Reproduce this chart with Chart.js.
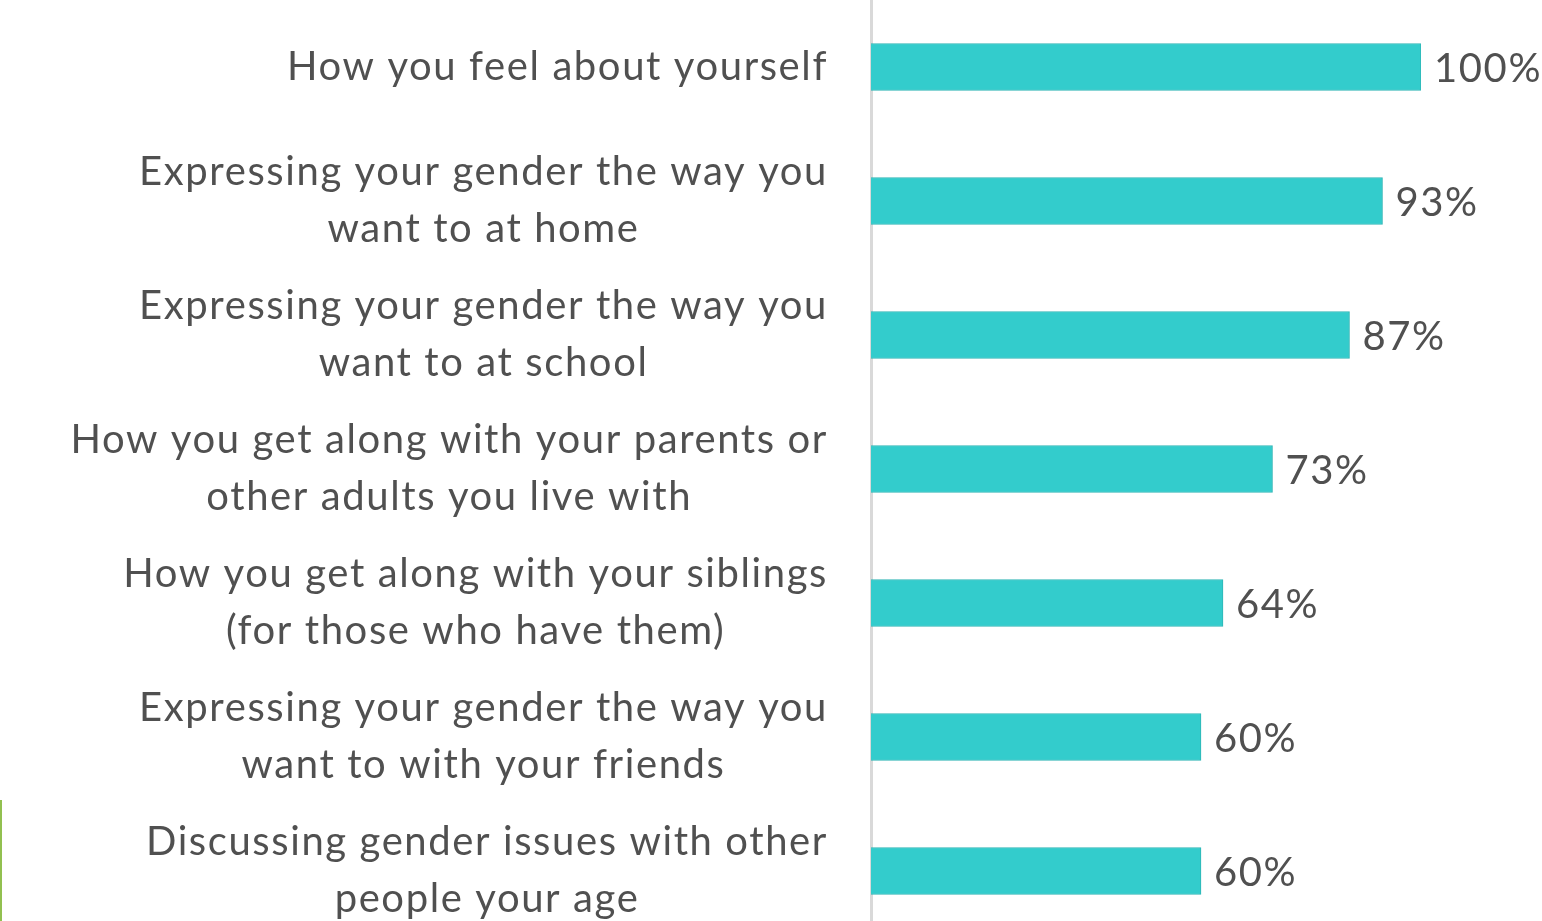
<!DOCTYPE html>
<html>
<head>
<meta charset="utf-8">
<script src="https://cdn.jsdelivr.net/npm/chart.js@4"></script>
<style>
  html, body { margin: 0; padding: 0; background: #fff; overflow: hidden; }
  #wrap { position: relative; width: 1542px; height: 938px; }
  #edge { position: absolute; left: 0; top: 800px; width: 2px; height: 121px; background: #92c050; }
</style>
</head>
<body>
<div id="wrap"><canvas id="chart"></canvas></div>
<div id="edge"></div>
<script>
// Chart data
const categories = [
    ['How you feel about yourself'],
    ['Expressing your gender the way you', 'want to at home'],
    ['Expressing your gender the way you', 'want to at school'],
    ['How you get along with your parents or', 'other adults you live with'],
    ['How you get along with your siblings', '(for those who have them)'],
    ['Expressing your gender the way you', 'want to with your friends'],
    ['Discussing gender issues with other', 'people your age']
];
const values = [100, 93, 87, 73, 64, 60, 60];

const textColor = '#505050';
const barColor = '#33cccc';
const fontFamily = 'Lato, "Open Sans", sans-serif';
const fontSize = 40;
const spacing = '1.6px';
const lineHeight = 57;

// Category labels: block right-aligned, lines centered within block
const categoryLabels = {
    id: 'categoryLabels',
    afterDraw(chart) {
        const ctx = chart.ctx;
        const y = chart.scales.y;
        const rightEdge = 828;
        ctx.save();
        ctx.font = fontSize + 'px ' + fontFamily;
        ctx.letterSpacing = spacing;
        ctx.fillStyle = textColor;
        ctx.textAlign = 'center';
        ctx.textBaseline = 'middle';
        categories.forEach((lines, i) => {
            const w = Math.max(...lines.map(l => ctx.measureText(l).width));
            const cx = rightEdge - w / 2;
            const cy = y.getPixelForValue(i);
            const top = cy - (lines.length - 1) * lineHeight / 2;
            lines.forEach((l, j) => ctx.fillText(l, cx, top + j * lineHeight));
        });
        ctx.restore();
    }
};

// Value labels at the end of each bar
const valueLabels = {
    id: 'valueLabels',
    afterDatasetsDraw(chart) {
        const ctx = chart.ctx;
        const meta = chart.getDatasetMeta(0);
        ctx.save();
        ctx.font = fontSize + 'px ' + fontFamily;
        ctx.letterSpacing = spacing;
        ctx.fillStyle = textColor;
        ctx.textAlign = 'left';
        ctx.textBaseline = 'middle';
        meta.data.forEach((bar, i) => {
            ctx.fillText(values[i] + '%', bar.x + 13, bar.y + 2);
        });
        ctx.restore();
    }
};

new Chart(document.getElementById('chart'), {
    type: 'bar',
    data: {
        labels: categories,
        datasets: [{
            data: values,
            backgroundColor: barColor,
            borderColor: '#2fb5b5',
            borderWidth: 1,
            borderSkipped: 'left',
            barThickness: 47
        }]
    },
    options: {
        indexAxis: 'y',
        responsive: true,
        maintainAspectRatio: false,
        animation: false,
        layout: { padding: { top: 0, bottom: 0, left: 0, right: 121 } },
        plugins: {
            legend: { display: false },
            tooltip: { enabled: false }
        },
        scales: {
            x: {
                display: false,
                min: 0,
                max: 100
            },
            y: {
                grid: { display: false, drawTicks: false },
                border: { display: true, color: '#d9d9d9', width: 3 },
                ticks: { display: false },
                afterFit(scale) { scale.width = 871; }
            }
        }
    },
    plugins: [categoryLabels, valueLabels]
});
</script>
</body>
</html>
